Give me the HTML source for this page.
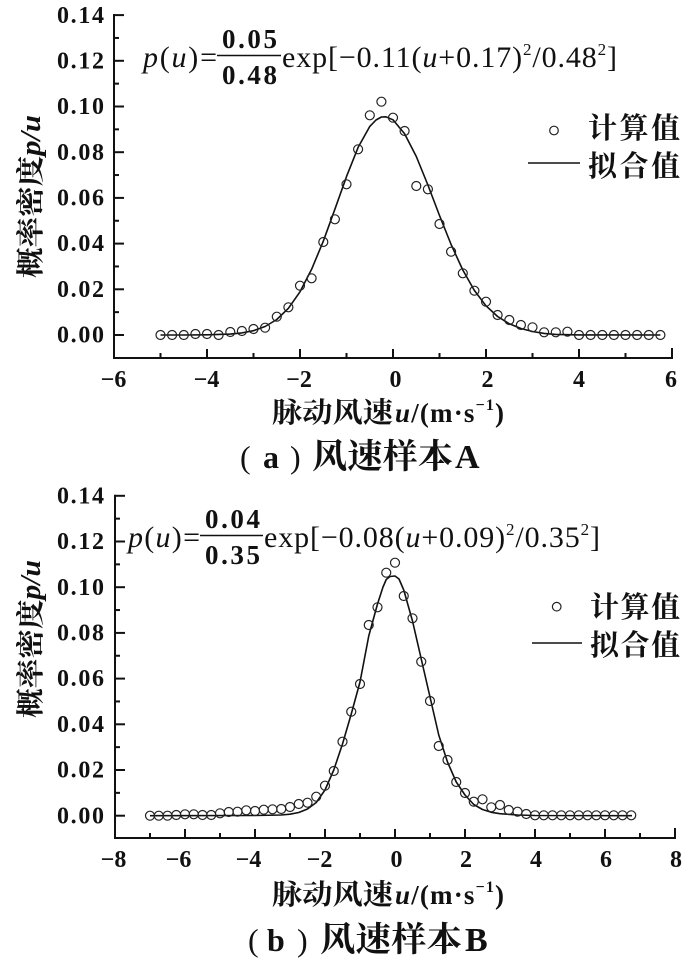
<!DOCTYPE html>
<html>
<head>
<meta charset="utf-8">
<style>
html,body{margin:0;padding:0;background:#fff;}
svg{display:block;}
text{font-family:"Liberation Serif","Noto Serif CJK SC",serif;fill:#111;}
.tk{font-size:24px;font-weight:bold;}
.cjk{font-weight:bold;}
</style>
</head>
<body>
<svg width="700" height="966" viewBox="0 0 700 966" xmlns="http://www.w3.org/2000/svg">
<rect width="700" height="966" fill="#fff"/>

<!-- ================= PANEL A ================= -->
<g stroke="#111" stroke-width="2" fill="none">
  <line x1="114" y1="14" x2="114" y2="359"/>
  <line x1="113" y1="358" x2="673" y2="358"/>
  <line x1="114" y1="15.1" x2="124" y2="15.1"/>
  <line x1="114" y1="60.8" x2="124" y2="60.8"/>
  <line x1="114" y1="106.5" x2="124" y2="106.5"/>
  <line x1="114" y1="152.2" x2="124" y2="152.2"/>
  <line x1="114" y1="197.9" x2="124" y2="197.9"/>
  <line x1="114" y1="243.6" x2="124" y2="243.6"/>
  <line x1="114" y1="289.3" x2="124" y2="289.3"/>
  <line x1="114" y1="335" x2="124" y2="335"/>
  <line x1="114" y1="37.95" x2="119" y2="37.95"/>
  <line x1="114" y1="83.65" x2="119" y2="83.65"/>
  <line x1="114" y1="129.35" x2="119" y2="129.35"/>
  <line x1="114" y1="175.05" x2="119" y2="175.05"/>
  <line x1="114" y1="220.75" x2="119" y2="220.75"/>
  <line x1="114" y1="266.45" x2="119" y2="266.45"/>
  <line x1="114" y1="312.15" x2="119" y2="312.15"/>
  <line x1="160.5" y1="358" x2="160.5" y2="353"/>
  <line x1="207" y1="358" x2="207" y2="349"/>
  <line x1="253.5" y1="358" x2="253.5" y2="353"/>
  <line x1="300" y1="358" x2="300" y2="349"/>
  <line x1="346.5" y1="358" x2="346.5" y2="353"/>
  <line x1="393" y1="358" x2="393" y2="349"/>
  <line x1="439.5" y1="358" x2="439.5" y2="353"/>
  <line x1="486" y1="358" x2="486" y2="349"/>
  <line x1="532.5" y1="358" x2="532.5" y2="353"/>
  <line x1="579" y1="358" x2="579" y2="349"/>
  <line x1="625.5" y1="358" x2="625.5" y2="353"/>
  <line x1="672" y1="358" x2="672" y2="348"/>
</g>
<g class="tk" text-anchor="end">
  <text x="104" y="23" textLength="47" lengthAdjust="spacing">0.14</text>
  <text x="104" y="68.5" textLength="47" lengthAdjust="spacing">0.12</text>
  <text x="104" y="114" textLength="47" lengthAdjust="spacing">0.10</text>
  <text x="104" y="160" textLength="47" lengthAdjust="spacing">0.08</text>
  <text x="104" y="205.5" textLength="47" lengthAdjust="spacing">0.06</text>
  <text x="104" y="251" textLength="47" lengthAdjust="spacing">0.04</text>
  <text x="104" y="297" textLength="47" lengthAdjust="spacing">0.02</text>
  <text x="104" y="342.5" textLength="47" lengthAdjust="spacing">0.00</text>
</g>
<g class="tk" text-anchor="middle">
  <text x="113.5" y="387">−6</text>
  <text x="206.5" y="387">−4</text>
  <text x="299" y="387">−2</text>
  <text x="395.5" y="387">0</text>
  <text x="487.5" y="387">2</text>
  <text x="579" y="387">4</text>
  <text x="671" y="387">6</text>
</g>

<polyline fill="none" stroke="#111" stroke-width="1.6" stroke-linejoin="round" points="160.5,335 183.8,335 207,334.8 230.3,334.1 241.9,332.9 253.5,330.7 265.1,326.5 276.8,319.5 288.4,308.3 300,291.8 311.6,269.3 323.3,241.2 334.9,209.2 346.5,176.6 358.1,147.4 369.8,126.4 376,120 381.4,117 386,116.8 393,119.8 404.6,133.8 416.3,156.5 427.9,185 439.5,215.5 451.1,244.5 462.8,270 474.4,290.5 486,305.8 497.6,316.5 509.3,323.8 520.9,328.5 532.5,331.5 544.1,333.4 555.8,334.4 579,334.9 660.4,335"/>

<g fill="none" stroke="#222" stroke-width="1.2">
  <circle cx="160.5" cy="335" r="4.5"/>
  <circle cx="172.1" cy="335" r="4.5"/>
  <circle cx="183.8" cy="335" r="4.5"/>
  <circle cx="195.4" cy="334" r="4.5"/>
  <circle cx="207" cy="334" r="4.5"/>
  <circle cx="218.6" cy="335" r="4.5"/>
  <circle cx="230.3" cy="332" r="4.5"/>
  <circle cx="241.9" cy="331" r="4.5"/>
  <circle cx="253.5" cy="329" r="4.5"/>
  <circle cx="265.1" cy="327.7" r="4.5"/>
  <circle cx="276.8" cy="316.7" r="4.5"/>
  <circle cx="288.4" cy="307.3" r="4.5"/>
  <circle cx="300" cy="285.7" r="4.5"/>
  <circle cx="311.6" cy="278.3" r="4.5"/>
  <circle cx="323.3" cy="242" r="4.5"/>
  <circle cx="334.9" cy="219.3" r="4.5"/>
  <circle cx="346.5" cy="184.3" r="4.5"/>
  <circle cx="358.1" cy="149.3" r="4.5"/>
  <circle cx="369.8" cy="115.3" r="4.5"/>
  <circle cx="381.4" cy="101.7" r="4.5"/>
  <circle cx="393" cy="117.7" r="4.5"/>
  <circle cx="404.6" cy="131" r="4.5"/>
  <circle cx="416.3" cy="186" r="4.5"/>
  <circle cx="427.9" cy="189.3" r="4.5"/>
  <circle cx="439.5" cy="224" r="4.5"/>
  <circle cx="451.1" cy="251.7" r="4.5"/>
  <circle cx="462.8" cy="273.3" r="4.5"/>
  <circle cx="474.4" cy="290.7" r="4.5"/>
  <circle cx="486" cy="301.7" r="4.5"/>
  <circle cx="497.6" cy="315" r="4.5"/>
  <circle cx="509.3" cy="320" r="4.5"/>
  <circle cx="520.9" cy="325" r="4.5"/>
  <circle cx="532.5" cy="327.3" r="4.5"/>
  <circle cx="544.1" cy="332.3" r="4.5"/>
  <circle cx="555.8" cy="332.3" r="4.5"/>
  <circle cx="567.4" cy="331.7" r="4.5"/>
  <circle cx="579" cy="335" r="4.5"/>
  <circle cx="590.6" cy="335" r="4.5"/>
  <circle cx="602.3" cy="335" r="4.5"/>
  <circle cx="613.9" cy="335" r="4.5"/>
  <circle cx="625.5" cy="335" r="4.5"/>
  <circle cx="637.1" cy="335" r="4.5"/>
  <circle cx="648.8" cy="335" r="4.5"/>
  <circle cx="660.4" cy="335" r="4.5"/>
  <circle cx="554" cy="130.5" r="4.3"/>
</g>
<line x1="528" y1="163" x2="580" y2="163" stroke="#111" stroke-width="1.6"/>
<text class="cjk" x="588" y="138" font-size="29" textLength="92" lengthAdjust="spacing">计算值</text>
<text class="cjk" x="588" y="176" font-size="29" textLength="92" lengthAdjust="spacing">拟合值</text>

<text x="143" y="67" font-size="30" textLength="74" lengthAdjust="spacing"><tspan font-style="italic">p</tspan>(<tspan font-style="italic">u</tspan>)=</text>
<line x1="217" y1="55.5" x2="281" y2="55.5" stroke="#111" stroke-width="1.6"/>
<text x="222" y="48" font-size="27" font-weight="bold" textLength="55" lengthAdjust="spacing">0.05</text>
<text x="222" y="84" font-size="27" font-weight="bold" textLength="55" lengthAdjust="spacing">0.48</text>
<text x="282" y="67" font-size="30" textLength="335" lengthAdjust="spacing">exp[−0.11(<tspan font-style="italic">u</tspan>+0.17)<tspan font-size="17" dy="-12">2</tspan><tspan dy="12">/0.48</tspan><tspan font-size="17" dy="-12">2</tspan><tspan dy="12">]</tspan></text>

<text class="cjk" transform="translate(40,278) rotate(-90)" font-size="28" textLength="163" lengthAdjust="spacingAndGlyphs">概率密度<tspan font-style="italic">p/u</tspan></text>

<text class="cjk" x="272" y="422" font-size="28" textLength="121" lengthAdjust="spacingAndGlyphs">脉动风速</text>
<text x="395" y="422" font-size="27" font-weight="bold" textLength="109" lengthAdjust="spacing"><tspan font-style="italic">u</tspan>/(m·s<tspan font-size="16" dy="-12">−1</tspan><tspan dy="12">)</tspan></text>

<text x="240" y="468" font-size="32">(</text>
<text x="263" y="468" font-size="32" font-weight="bold">a</text>
<text x="290" y="468" font-size="32">)</text>
<text class="cjk" x="312" y="468" font-size="34" textLength="141" lengthAdjust="spacingAndGlyphs">风速样本</text>
<text x="455" y="468" font-size="34" font-weight="bold">A</text>

<!-- ================= PANEL B ================= -->
<g stroke="#111" stroke-width="2" fill="none">
  <line x1="115" y1="494.8" x2="115" y2="839"/>
  <line x1="114" y1="838" x2="676" y2="838"/>
  <line x1="115" y1="495.8" x2="125" y2="495.8"/>
  <line x1="115" y1="541.5" x2="125" y2="541.5"/>
  <line x1="115" y1="587.2" x2="125" y2="587.2"/>
  <line x1="115" y1="632.9" x2="125" y2="632.9"/>
  <line x1="115" y1="678.6" x2="125" y2="678.6"/>
  <line x1="115" y1="724.3" x2="125" y2="724.3"/>
  <line x1="115" y1="770" x2="125" y2="770"/>
  <line x1="115" y1="815.7" x2="125" y2="815.7"/>
  <line x1="115" y1="518.65" x2="120" y2="518.65"/>
  <line x1="115" y1="564.35" x2="120" y2="564.35"/>
  <line x1="115" y1="610.05" x2="120" y2="610.05"/>
  <line x1="115" y1="655.75" x2="120" y2="655.75"/>
  <line x1="115" y1="701.45" x2="120" y2="701.45"/>
  <line x1="115" y1="747.15" x2="120" y2="747.15"/>
  <line x1="115" y1="792.85" x2="120" y2="792.85"/>
  <line x1="150" y1="838" x2="150" y2="833"/>
  <line x1="185" y1="838" x2="185" y2="829"/>
  <line x1="220" y1="838" x2="220" y2="833"/>
  <line x1="255" y1="838" x2="255" y2="829"/>
  <line x1="290" y1="838" x2="290" y2="833"/>
  <line x1="325" y1="838" x2="325" y2="829"/>
  <line x1="360" y1="838" x2="360" y2="833"/>
  <line x1="395" y1="838" x2="395" y2="829"/>
  <line x1="430" y1="838" x2="430" y2="833"/>
  <line x1="465" y1="838" x2="465" y2="829"/>
  <line x1="500" y1="838" x2="500" y2="833"/>
  <line x1="535" y1="838" x2="535" y2="829"/>
  <line x1="570" y1="838" x2="570" y2="833"/>
  <line x1="605" y1="838" x2="605" y2="829"/>
  <line x1="640" y1="838" x2="640" y2="833"/>
  <line x1="675" y1="838" x2="675" y2="828"/>
</g>
<g class="tk" text-anchor="end">
  <text x="104" y="503.5" textLength="47" lengthAdjust="spacing">0.14</text>
  <text x="104" y="549" textLength="47" lengthAdjust="spacing">0.12</text>
  <text x="104" y="595" textLength="47" lengthAdjust="spacing">0.10</text>
  <text x="104" y="640.5" textLength="47" lengthAdjust="spacing">0.08</text>
  <text x="104" y="686" textLength="47" lengthAdjust="spacing">0.06</text>
  <text x="104" y="732" textLength="47" lengthAdjust="spacing">0.04</text>
  <text x="104" y="777.5" textLength="47" lengthAdjust="spacing">0.02</text>
  <text x="104" y="823.5" textLength="47" lengthAdjust="spacing">0.00</text>
</g>
<g class="tk" text-anchor="middle">
  <text x="113.5" y="867">−8</text>
  <text x="178.5" y="867">−6</text>
  <text x="248.5" y="867">−4</text>
  <text x="319.5" y="867">−2</text>
  <text x="396.5" y="867">0</text>
  <text x="466" y="867">2</text>
  <text x="536" y="867">4</text>
  <text x="606" y="867">6</text>
  <text x="676" y="867">8</text>
</g>

<polyline fill="none" stroke="#111" stroke-width="1.6" stroke-linejoin="round" points="150,815.7 255,815.5 281,815 290,814.2 298.75,812.5 307.5,809 316.25,802.5 325,790 333.75,770 342.5,744 351.25,714 360,682 368.75,636 377.5,604 383,587 386.25,579.5 390,576.5 395,576 399,579 403.75,590 412.5,621 421.25,659 430,697 438.75,735 447.5,762 456.25,782 465,795 473.75,804.5 482.5,809.5 491.25,812.3 500,813.7 517.5,815 535,815.5 632,815.7"/>

<g fill="none" stroke="#222" stroke-width="1.2">
  <circle cx="150" cy="815.7" r="4.5"/>
  <circle cx="158.75" cy="815.7" r="4.5"/>
  <circle cx="167.5" cy="815.7" r="4.5"/>
  <circle cx="176.25" cy="815" r="4.5"/>
  <circle cx="185" cy="814.3" r="4.5"/>
  <circle cx="193.75" cy="814.3" r="4.5"/>
  <circle cx="202.5" cy="815" r="4.5"/>
  <circle cx="211.25" cy="815" r="4.5"/>
  <circle cx="220" cy="813.3" r="4.5"/>
  <circle cx="228.75" cy="812" r="4.5"/>
  <circle cx="237.5" cy="811.7" r="4.5"/>
  <circle cx="246.25" cy="810.3" r="4.5"/>
  <circle cx="255" cy="811" r="4.5"/>
  <circle cx="263.75" cy="809.7" r="4.5"/>
  <circle cx="272.5" cy="809.3" r="4.5"/>
  <circle cx="281.25" cy="809" r="4.5"/>
  <circle cx="290" cy="807" r="4.5"/>
  <circle cx="298.75" cy="804" r="4.5"/>
  <circle cx="307.5" cy="802.7" r="4.5"/>
  <circle cx="316.25" cy="796.7" r="4.5"/>
  <circle cx="325" cy="785.7" r="4.5"/>
  <circle cx="333.75" cy="771" r="4.5"/>
  <circle cx="342.5" cy="741.7" r="4.5"/>
  <circle cx="351.25" cy="711.7" r="4.5"/>
  <circle cx="360" cy="684" r="4.5"/>
  <circle cx="368.75" cy="625" r="4.5"/>
  <circle cx="377.5" cy="607.3" r="4.5"/>
  <circle cx="386.25" cy="572.7" r="4.5"/>
  <circle cx="395" cy="562.7" r="4.5"/>
  <circle cx="403.75" cy="596" r="4.5"/>
  <circle cx="412.5" cy="618.3" r="4.5"/>
  <circle cx="421.25" cy="661.7" r="4.5"/>
  <circle cx="430" cy="701" r="4.5"/>
  <circle cx="438.75" cy="746" r="4.5"/>
  <circle cx="447.5" cy="760" r="4.5"/>
  <circle cx="456.25" cy="782" r="4.5"/>
  <circle cx="465" cy="793" r="4.5"/>
  <circle cx="473.75" cy="801.7" r="4.5"/>
  <circle cx="482.5" cy="799.3" r="4.5"/>
  <circle cx="491.25" cy="807.3" r="4.5"/>
  <circle cx="500" cy="805" r="4.5"/>
  <circle cx="508.75" cy="810" r="4.5"/>
  <circle cx="517.5" cy="811.7" r="4.5"/>
  <circle cx="526.25" cy="814" r="4.5"/>
  <circle cx="535" cy="815.3" r="4.5"/>
  <circle cx="543.75" cy="815.3" r="4.5"/>
  <circle cx="552.5" cy="815.3" r="4.5"/>
  <circle cx="561.25" cy="815.3" r="4.5"/>
  <circle cx="570" cy="815.3" r="4.5"/>
  <circle cx="578.75" cy="815.3" r="4.5"/>
  <circle cx="587.5" cy="815.3" r="4.5"/>
  <circle cx="596.25" cy="815.3" r="4.5"/>
  <circle cx="605" cy="815.3" r="4.5"/>
  <circle cx="613.75" cy="815.3" r="4.5"/>
  <circle cx="622.5" cy="815.3" r="4.5"/>
  <circle cx="631.25" cy="815.3" r="4.5"/>
  <circle cx="556.7" cy="606.7" r="4.3"/>
</g>
<line x1="532" y1="643" x2="582" y2="643" stroke="#111" stroke-width="1.6"/>
<text class="cjk" x="590" y="617" font-size="29" textLength="90" lengthAdjust="spacing">计算值</text>
<text class="cjk" x="590" y="655" font-size="29" textLength="90" lengthAdjust="spacing">拟合值</text>

<text x="128" y="547" font-size="30" textLength="72" lengthAdjust="spacing"><tspan font-style="italic">p</tspan>(<tspan font-style="italic">u</tspan>)=</text>
<line x1="200" y1="535.5" x2="263" y2="535.5" stroke="#111" stroke-width="1.6"/>
<text x="205" y="528" font-size="27" font-weight="bold" textLength="55" lengthAdjust="spacing">0.04</text>
<text x="205" y="564" font-size="27" font-weight="bold" textLength="55" lengthAdjust="spacing">0.35</text>
<text x="264" y="547" font-size="30" textLength="336" lengthAdjust="spacing">exp[−0.08(<tspan font-style="italic">u</tspan>+0.09)<tspan font-size="17" dy="-12">2</tspan><tspan dy="12">/0.35</tspan><tspan font-size="17" dy="-12">2</tspan><tspan dy="12">]</tspan></text>

<text class="cjk" transform="translate(40,718) rotate(-90)" font-size="28" textLength="158" lengthAdjust="spacingAndGlyphs">概率密度<tspan font-style="italic">p/u</tspan></text>

<text class="cjk" x="272" y="904" font-size="28" textLength="121" lengthAdjust="spacingAndGlyphs">脉动风速</text>
<text x="395" y="904" font-size="27" font-weight="bold" textLength="109" lengthAdjust="spacing"><tspan font-style="italic">u</tspan>/(m·s<tspan font-size="16" dy="-12">−1</tspan><tspan dy="12">)</tspan></text>

<text x="248" y="951" font-size="32">(</text>
<text x="267" y="951" font-size="32" font-weight="bold">b</text>
<text x="297" y="951" font-size="32">)</text>
<text class="cjk" x="320" y="951" font-size="34" textLength="142" lengthAdjust="spacingAndGlyphs">风速样本</text>
<text x="465" y="951" font-size="34" font-weight="bold">B</text>
</svg>
</body>
</html>
